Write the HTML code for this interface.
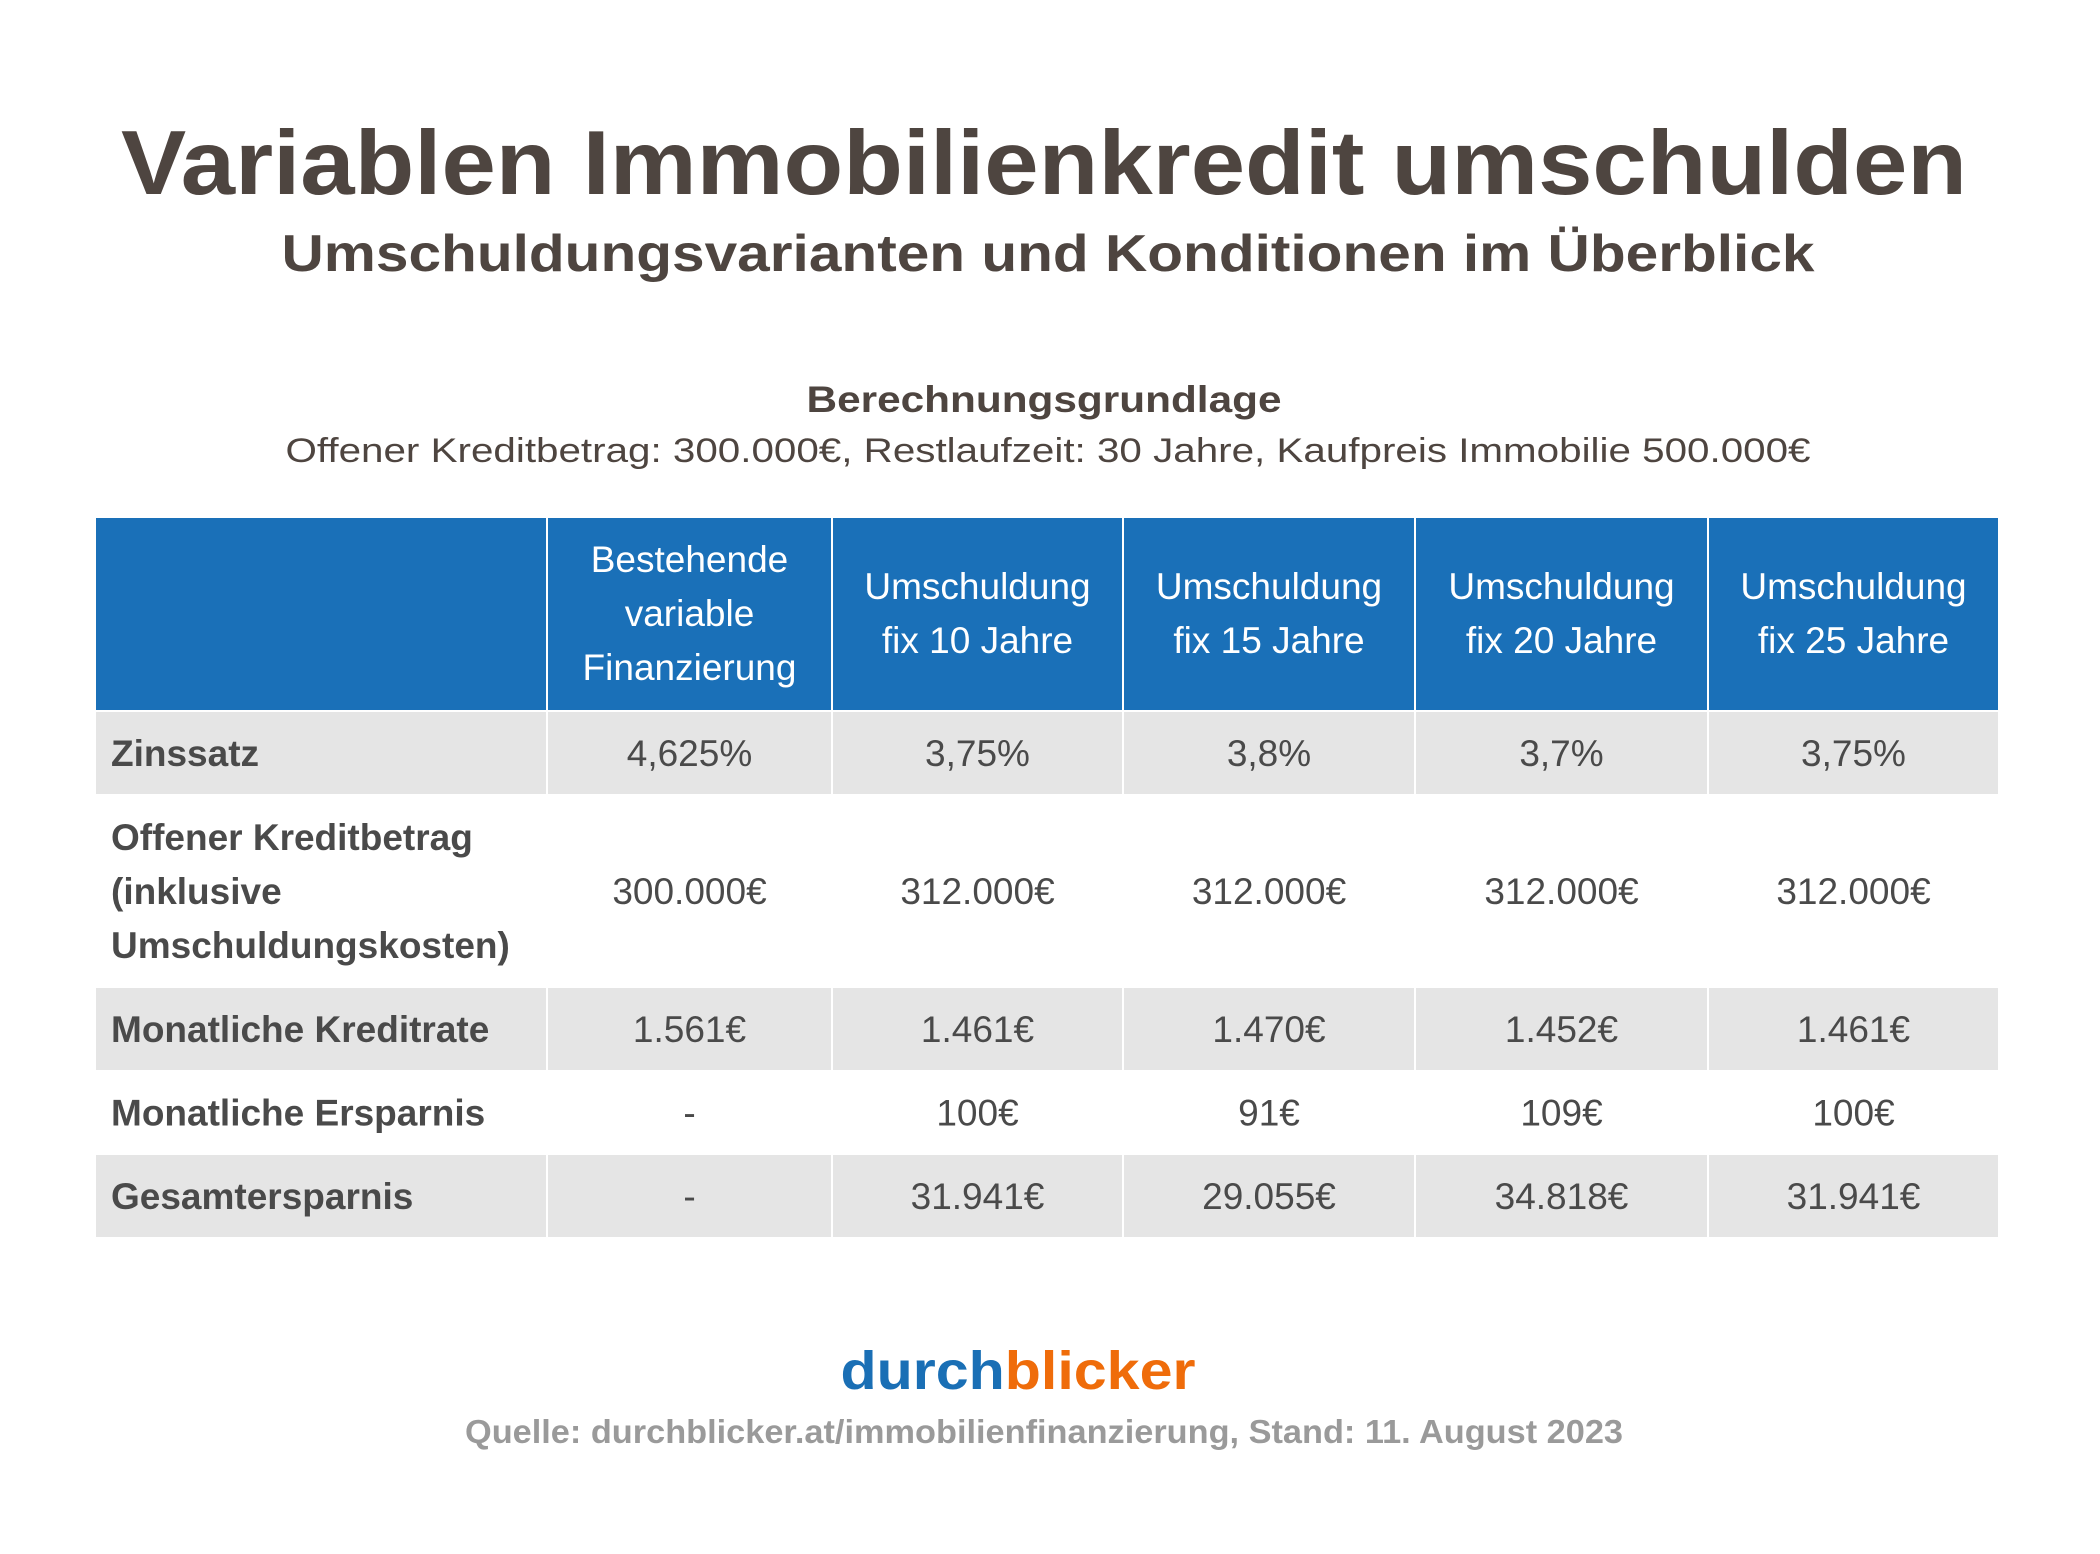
<!DOCTYPE html>
<html><head><meta charset="utf-8"><style>
html,body{margin:0;padding:0;background:#fff;}
svg{display:block;font-family:"Liberation Sans",sans-serif;}
</style></head><body>
<svg width="2100" height="1554" viewBox="0 0 2100 1554">
<rect width="2100" height="1554" fill="#fff"/>
<text x="1044" y="194" text-anchor="middle" font-size="91" font-weight="bold" fill="#4e4540" textLength="1846" lengthAdjust="spacingAndGlyphs">Variablen Immobilienkredit umschulden</text>
<text x="1048" y="271" text-anchor="middle" font-size="52" font-weight="bold" fill="#4e4540" textLength="1533" lengthAdjust="spacingAndGlyphs">Umschuldungsvarianten und Konditionen im Überblick</text>
<text x="1044" y="412" text-anchor="middle" font-size="37" font-weight="bold" fill="#4e4540" textLength="475" lengthAdjust="spacingAndGlyphs">Berechnungsgrundlage</text>
<text x="1048" y="462" text-anchor="middle" font-size="34" fill="#4e4540" textLength="1525" lengthAdjust="spacingAndGlyphs">Offener Kreditbetrag: 300.000€, Restlaufzeit: 30 Jahre, Kaufpreis Immobilie 500.000€</text>

<g id="tbl"></g>

<text x="1018" y="1389" text-anchor="middle" font-size="54" font-weight="bold" textLength="355" lengthAdjust="spacingAndGlyphs"><tspan fill="#1a6fb5">durch</tspan><tspan fill="#ef6c0a">blicker</tspan></text>
<text x="1044" y="1443" text-anchor="middle" font-size="33" font-weight="bold" fill="#9a9a9a" textLength="1158" lengthAdjust="spacingAndGlyphs">Quelle: durchblicker.at/immobilienfinanzierung, Stand: 11. August 2023</text>
</svg>
<script>
const NS="http://www.w3.org/2000/svg";
const g=document.getElementById('tbl');
const colX=[96,546,831,1122,1414,1707,1998];
const headers=[[],["Bestehende","variable","Finanzierung"],["Umschuldung","fix 10 Jahre"],["Umschuldung","fix 15 Jahre"],["Umschuldung","fix 20 Jahre"],["Umschuldung","fix 25 Jahre"]];
const rowLabels=[["Zinssatz"],["Offener Kreditbetrag","(inklusive","Umschuldungskosten)"],["Monatliche Kreditrate"],["Monatliche Ersparnis"],["Gesamtersparnis"]];
const rowValues=[["4,625%","3,75%","3,8%","3,7%","3,75%"],["300.000€","312.000€","312.000€","312.000€","312.000€"],["1.561€","1.461€","1.470€","1.452€","1.461€"],["-","100€","91€","109€","100€"],["-","31.941€","29.055€","34.818€","31.941€"]];
const rowY=[[712,794],[796,986],[988,1070],[1072,1153],[1155,1237]];
const rowFill=["#e5e5e5","#ffffff","#e5e5e5","#ffffff","#e5e5e5"];
function rect(x,y,w,h,f,name){const r=document.createElementNS(NS,'rect');r.setAttribute('x',x);r.setAttribute('y',y);r.setAttribute('width',w);r.setAttribute('height',h);r.setAttribute('fill',f);


g.appendChild(r);}
function txt(lines,x,cy,anchor,fill,bold,name){const lh=54;const t=document.createElementNS(NS,'text');t.setAttribute('text-anchor',anchor);t.setAttribute('font-size','37');t.setAttribute('fill',fill);if(bold)t.setAttribute('font-weight','bold');


const y0=cy-(lines.length-1)*lh/2+13;lines.forEach((l,i)=>{const s=document.createElementNS(NS,'tspan');s.setAttribute('x',x);s.setAttribute('y',y0+i*lh);s.textContent=l;t.appendChild(s);});g.appendChild(t);}
for(let c=0;c<6;c++){const x=colX[c]+(c?2:0),w=colX[c+1]-x;rect(x,518,w,192,'#1a70b8','header-cell');if(headers[c].length)txt(headers[c],(colX[c]+colX[c+1])/2+1,613,'middle','#fff',false,'column-header');}
rowLabels.forEach((lab,r)=>{const [y1,y2]=rowY[r];const cy=(y1+y2)/2;
for(let c=0;c<6;c++){const x=colX[c]+(c?2:0),w=colX[c+1]-x;rect(x,y1,w,y2-y1,rowFill[r],'table-cell');}
txt(lab,111,cy,'start','#4a4a4a',true,'row-label');
rowValues[r].forEach((v,i)=>txt([v],(colX[i+1]+colX[i+2])/2+1,cy,'middle','#4a4a4a',false,'cell-value'));});
</script>
</body></html>
